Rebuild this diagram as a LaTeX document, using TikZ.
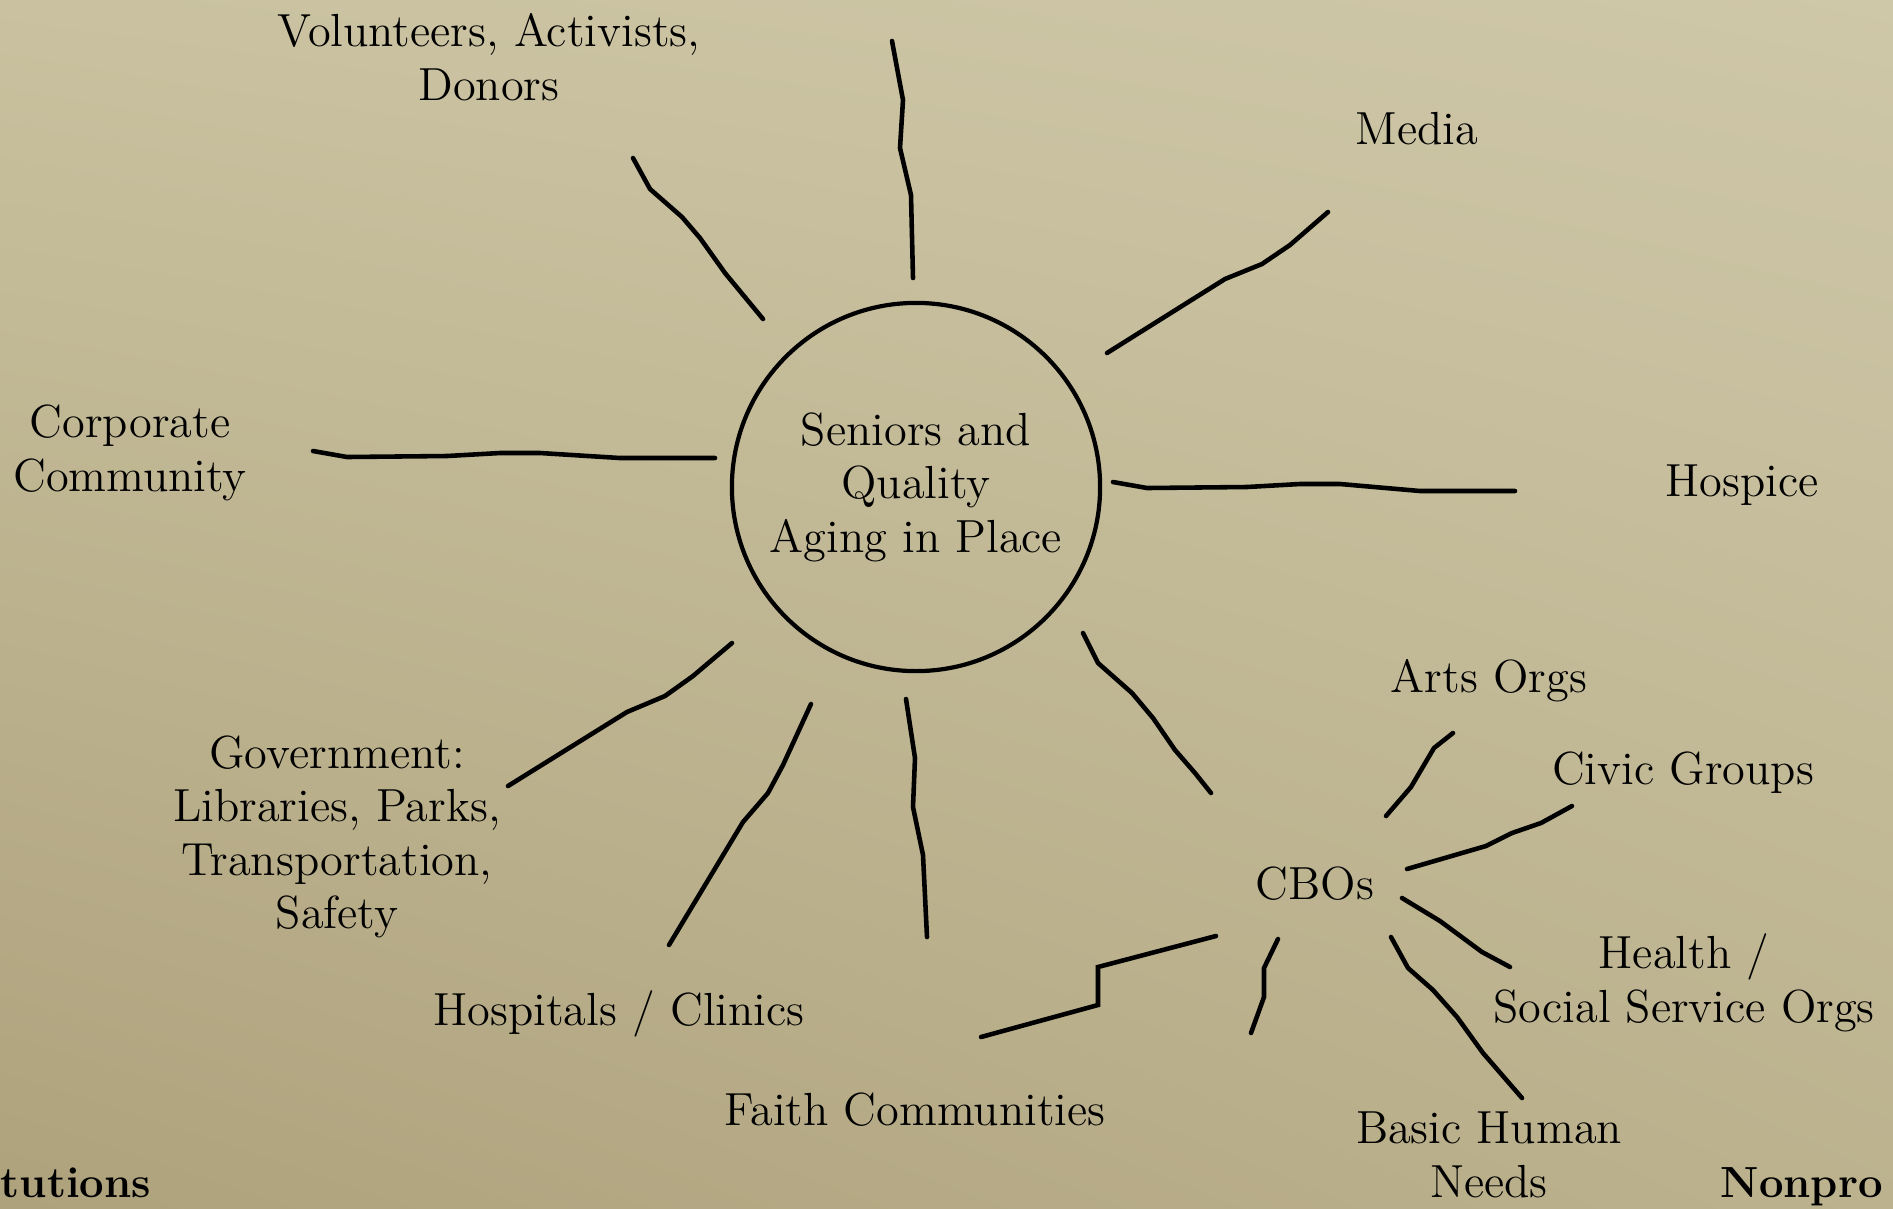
\documentclass[tikz,border=0pt]{standalone}
\usepackage{tikz}
\usetikzlibrary{calc,shadings}
\definecolor{parchUL}{RGB}{201,193,159}
\definecolor{parchUR}{RGB}{206,199,168}
\definecolor{parchLL}{RGB}{174,162,124}
\definecolor{parchLR}{RGB}{188,178,142}
\tikzset{
	lbl/.style={align=center, font=\fontsize{13.2}{15.2}\selectfont, inner sep=1pt},
	edgeword/.style={font=\fontsize{12.4}{14}\selectfont\bfseries, inner sep=0pt},
	spoke/.style={line width=1.3pt, line join=round, line cap=round}
}

\begin{document}
\begin{tikzpicture}[x=0.01cm, y=-0.01cm]

			% Parchment background
			\shade[upper left=parchUL, upper right=parchUR, lower left=parchLL, lower right=parchLR]
				(0,0) rectangle (1893,1208);
			\useasboundingbox (0,0) rectangle (1893,1208);

			% Centre circle
			\node[lbl, draw, circle, line width=1.2pt, minimum size=3.68cm] (hub) at (916,487)
				{Seniors and\\Quality\\Aging in Place};

			% Labels round the hub
			\node[lbl] (vol) at (489,57) {Volunteers, Activists,\\Donors};
			\node[lbl] (media) at (1417,129) {Media};
			\node[lbl] (corp) at (130,453) {Corporate\\Community};
			\node[lbl] (hospice) at (1742,485) {Hospice};
			\node[lbl] (gov) at (337,837) {Government:\\Libraries, Parks,\\Transportation,\\Safety};
			\node[lbl] (clinics) at (619,1014) {Hospitals / Clinics};
			\node[lbl] (faith) at (915,1110) {Faith Communities};
			\node[lbl] (cbo) at (1315,884) {CBOs};

			% Labels round the CBOs
			\node[lbl] (arts) at (1489,681) {Arts Orgs};
			\node[lbl] (civic) at (1683,773) {Civic Groups};
			\node[lbl] (health) at (1684,983) {Health /\\Social Service Orgs};
			\node[lbl] (basic) at (1489,1155) {Basic Human\\Needs};

			% Cut-off words at the bottom edge
			\node[edgeword, anchor=base west] (inst) at (0,1197) {tutions};
			\node[edgeword, anchor=base west] (nonp) at (1720,1197) {Nonpro};

			% Free ends of the spokes
			\coordinate (volIn) at (763,319);    \coordinate (volOut) at (633,158);
			\coordinate (topIn) at (913,278);    \coordinate (topOut) at (892,41);
			\coordinate (mediaIn) at (1107,353); \coordinate (mediaOut) at (1328,212);
			\coordinate (corpIn) at (715,458);   \coordinate (corpOut) at (313,451);
			\coordinate (hospIn) at (1113,482);  \coordinate (hospOut) at (1515,491);
			\coordinate (govIn) at (732,643);    \coordinate (govOut) at (508,786);
			\coordinate (clinIn) at (811,704);   \coordinate (clinOut) at (669,945);
			\coordinate (downIn) at (906,699);   \coordinate (downOut) at (927,937);
			\coordinate (cboIn) at (1083,633);   \coordinate (cboOut) at (1211,793);

			% Spokes from the hub
			\draw[spoke] (volIn) -- (725,273) -- (700,238) -- (682,217) -- (650,189) -- (volOut);
			\draw[spoke] (topIn) -- (911,195) -- (900,148) -- (903,100) -- (topOut);
			\draw[spoke] (mediaIn) -- (1225,279) -- (1262,264) -- (1290,245) -- (mediaOut);
			\draw[spoke] (corpIn) -- (620,458) -- (540,453) -- (500,453) -- (447,456) -- (347,457) -- (corpOut);
			\draw[spoke] (hospIn) -- (1147,488) -- (1247,487) -- (1300,484) -- (1340,484) -- (1420,491) -- (hospOut);
			\draw[spoke] (govIn) -- (693,676) -- (665,696) -- (627,712) -- (govOut);
			\draw[spoke] (clinIn) -- (783,765) -- (768,793) -- (743,822) -- (clinOut);
			\draw[spoke] (downIn) -- (915,758) -- (913,807) -- (923,855) -- (downOut);
			\draw[spoke] (cboIn) -- (1098,663) -- (1132,693) -- (1153,718) -- (1175,750) -- (1195,773) -- (cboOut);

			% Free ends of the CBO spokes
			\coordinate (artsIn) at (1386,816);  \coordinate (artsOut) at (1453,733);
			\coordinate (civicIn) at (1407,869); \coordinate (civicOut) at (1572,806);
			\coordinate (hlthIn) at (1402,898);  \coordinate (hlthOut) at (1510,967);
			\coordinate (basicIn) at (1391,937); \coordinate (basicOut) at (1522,1098);
			\coordinate (shortIn) at (1278,939); \coordinate (shortOut) at (1251,1033);
			\coordinate (faithIn) at (1216,936); \coordinate (faithOut) at (981,1037);

			% Spokes from the CBOs
			\draw[spoke] (artsIn) -- (1411,787) -- (1434,748) -- (artsOut);
			\draw[spoke] (civicIn) -- (1486,846) -- (1512,833) -- (1541,823) -- (civicOut);
			\draw[spoke] (hlthIn) -- (1440,921) -- (1482,952) -- (hlthOut);
			\draw[spoke] (basicIn) -- (1408,968) -- (1433,990) -- (1457,1017) -- (1483,1053) -- (basicOut);
			\draw[spoke] (shortIn) -- (1264,968) -- (1264,997) -- (shortOut);
			\draw[spoke, line join=miter] (faithIn) -- (1098,967) -- (1098,1005) -- (faithOut);

		\end{tikzpicture}
\end{document}
